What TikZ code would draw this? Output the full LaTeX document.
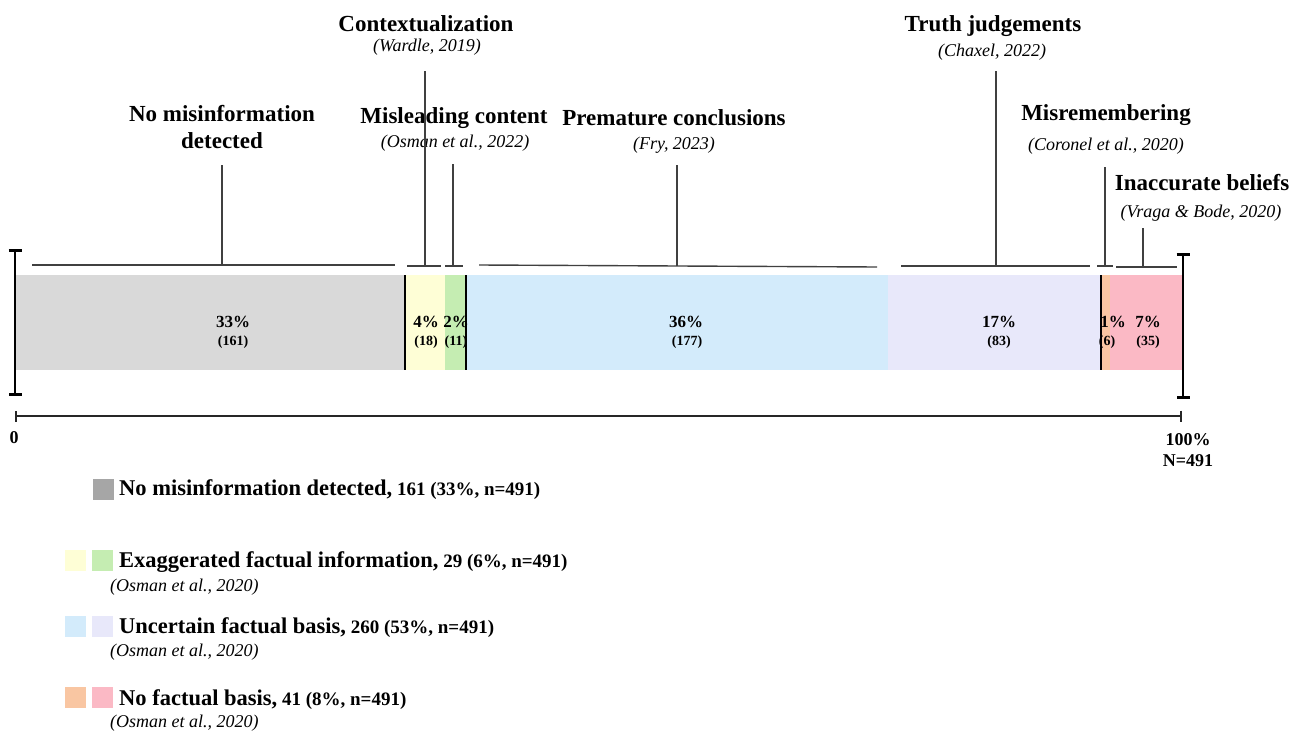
\documentclass[tikz,border=0pt]{standalone}
\usepackage{fontspec}
\setmainfont{Liberation Serif}
\usetikzlibrary{arrows.meta}
\definecolor{cGray}{HTML}{D9D9D9}
\definecolor{cGrayDark}{HTML}{A6A6A6}
\definecolor{cYellow}{HTML}{FEFED6}
\definecolor{cGreen}{HTML}{C5EDB2}
\definecolor{cBlue}{HTML}{D3EBFB}
\definecolor{cLav}{HTML}{E8E8FA}
\definecolor{cOrange}{HTML}{F9C6A2}
\definecolor{cPink}{HTML}{FBB9C5}
\definecolor{leadgray}{HTML}{404040}
\newcommand\legnum[1]{{\fontsize{19}{22}\selectfont\ #1}}
\begin{document}
\begin{tikzpicture}[x=1pt,y=-1pt,
  seg/.style={draw=none, inner sep=0, outer sep=0, anchor=north west, minimum height=95pt},
  pct/.style={font=\fontsize{17}{19}\selectfont\bfseries, inner sep=0},
  cnt/.style={font=\fontsize{14}{16}\selectfont\bfseries, inner sep=0},
  title/.style={font=\fontsize{23}{27}\selectfont\bfseries, align=center, inner sep=0},
  cite/.style={font=\fontsize{18}{21}\selectfont\itshape, inner sep=0},
  lead/.style={draw=leadgray, line width=1.4pt},
  divider/.style={draw=black, line width=1.2pt},
  ibar/.style={draw=black, line width=2.6pt, {Bar[width=13pt,line width=2.6pt]}-{Bar[width=13pt,line width=2.6pt]}},
  axis/.style={draw=black!85, line width=2pt, {Bar[width=11pt,line width=2pt]}-{Bar[width=11pt,line width=2pt]}},
  swatch/.style={draw=none, inner sep=0, minimum size=21pt, anchor=north west},
  legmain/.style={anchor=west, inner sep=0, font=\fontsize{22.5}{26}\selectfont\bfseries},
  legcite/.style={anchor=west, inner sep=0, font=\fontsize{18}{21}\selectfont\itshape},
  scalelab/.style={inner sep=0, font=\fontsize{18}{21}\selectfont\bfseries},
]
\useasboundingbox (0,0) rectangle (1303,733);

% stacked bar segments
\node[seg, fill=cGray,   minimum width=389pt] (sGray)   at (16,275) {};
\node[seg, fill=cYellow, minimum width=40pt]  (sYellow) at (405,275) {};
\node[seg, fill=cGreen,  minimum width=21pt]  (sGreen)  at (445,275) {};
\node[seg, fill=cBlue,   minimum width=422pt] (sBlue)   at (466,275) {};
\node[seg, fill=cLav,    minimum width=213pt] (sLav)    at (888,275) {};
\node[seg, fill=cOrange, minimum width=9pt]   (sOrange) at (1101,275) {};
\node[seg, fill=cPink,   minimum width=73pt]  (sPink)   at (1110,275) {};

% group dividers
\draw[divider] (sYellow.north west) -- (sYellow.south west);
\draw[divider] (sGreen.north east) -- (sGreen.south east);
\draw[divider] (sOrange.north west) -- (sOrange.south west);

% segment values
\node[pct] (p1) at (233,322) {33\%};  \node[cnt] (c1) at (233,342) {(161)};
\node[pct] (p2) at (426,322) {4\%};   \node[cnt] (c2) at (426,342) {(18)};
\node[pct] (p3) at (456,322) {2\%};   \node[cnt] (c3) at (456,342) {(11)};
\node[pct] (p4) at (686,322) {36\%};  \node[cnt] (c4) at (687,342) {(177)};
\node[pct] (p5) at (999,322) {17\%};  \node[cnt] (c5) at (999,342) {(83)};
\node[pct] (p6) at (1113,322) {1\%};  \node[cnt] (c6) at (1107,342) {(6)};
\node[pct] (p7) at (1148,322) {7\%};  \node[cnt] (c7) at (1148,342) {(35)};

% end bars and scale axis
\coordinate (ibL1) at (15,249); \coordinate (ibL2) at (15,396);
\coordinate (ibR1) at (1183,253); \coordinate (ibR2) at (1183,399);
\draw[ibar] (ibL1) -- (ibL2);
\draw[ibar] (ibR1) -- (ibR2);
\coordinate (axL) at (15,416); \coordinate (axR) at (1182,416);
\draw[axis] (axL) -- (axR);
\node[scalelab] (zero) at (14,438) {0};
\node[scalelab] (hund) at (1188,440) {100\%};
\node[scalelab] (nall) at (1188,461) {N=491};

% category labels
\node[title] (tNone) at (222,127) {No misinformation\\detected};
\node[title] (tCtx)  at (426,24)  {Contextualization};
\node[cite]  (cCtx)  at (427,47)  {(Wardle, 2019)};
\node[title] (tMis)  at (454,118) {Misleading content};
\node[cite]  (cMis)  at (455,143) {(Osman et al., 2022)};
\node[title] (tPre)  at (674,118) {Premature conclusions};
\node[cite]  (cPre)  at (674,145) {(Fry, 2023)};
\node[title] (tTru)  at (993,26)  {Truth judgements};
\node[cite]  (cTru)  at (992,52)  {(Chaxel, 2022)};
\node[title] (tRem)  at (1106,115) {Misremembering};
\node[cite]  (cRem)  at (1106,146) {(Coronel et al., 2020)};
\node[title] (tIna)  at (1202,183) {Inaccurate beliefs};
\node[cite]  (cIna)  at (1201,213) {(Vraga \& Bode, 2020)};

% brackets with leader stems
\coordinate (bGL) at (32,265);   \coordinate (bGR) at (395,265);
\coordinate (bGS) at (222,265);  \coordinate (bGT) at (222,165);
\coordinate (bYL) at (407,266);  \coordinate (bYR) at (441,266);
\coordinate (bYS) at (425,266);  \coordinate (bYT) at (425,71);
\coordinate (bNL) at (445,266);  \coordinate (bNR) at (463,266);
\coordinate (bNS) at (453,266);  \coordinate (bNT) at (453,164);
\coordinate (bBL) at (479,265);  \coordinate (bBR) at (877,267);
\coordinate (bBS) at (677,266);  \coordinate (bBT) at (677,165);
\coordinate (bLL) at (901,266);  \coordinate (bLR) at (1090,266);
\coordinate (bLS) at (996,266);  \coordinate (bLT) at (996,71);
\coordinate (bOL) at (1097,266); \coordinate (bOR) at (1113,266);
\coordinate (bOS) at (1105,266); \coordinate (bOT) at (1105,167);
\coordinate (bPL) at (1116,267); \coordinate (bPR) at (1177,267);
\coordinate (bPS) at (1143,267); \coordinate (bPT) at (1143,228);
\foreach \g in {G,Y,N,B,L,O,P}{
  \draw[lead] (b\g L) -- (b\g R);
  \draw[lead] (b\g S) -- (b\g T);
}

% legend
\node[swatch, fill=cGrayDark] (kGray) at (93,479) {};
\node[legmain] (lNone) at (119,490) {No misinformation detected,\legnum{161 (33\%, n=491)}};

\node[swatch, fill=cYellow] (kYellow) at (65,550) {};
\node[swatch, fill=cGreen]  (kGreen)  at (92,550) {};
\node[legmain] (lExa) at (119,562) {Exaggerated factual information,\legnum{29 (6\%, n=491)}};
\node[legcite] (lExaC) at (110,587) {(Osman et al., 2020)};

\node[swatch, fill=cBlue] (kBlue) at (65,616) {};
\node[swatch, fill=cLav]  (kLav)  at (92,616) {};
\node[legmain] (lUnc) at (119,628) {Uncertain factual basis,\legnum{260 (53\%, n=491)}};
\node[legcite] (lUncC) at (110,652) {(Osman et al., 2020)};

\node[swatch, fill=cOrange] (kOrange) at (65,687) {};
\node[swatch, fill=cPink]   (kPink)   at (92,687) {};
\node[legmain] (lNof) at (119,700) {No factual basis,\legnum{41 (8\%, n=491)}};
\node[legcite] (lNofC) at (110,723) {(Osman et al., 2020)};
\end{tikzpicture}
\end{document}
